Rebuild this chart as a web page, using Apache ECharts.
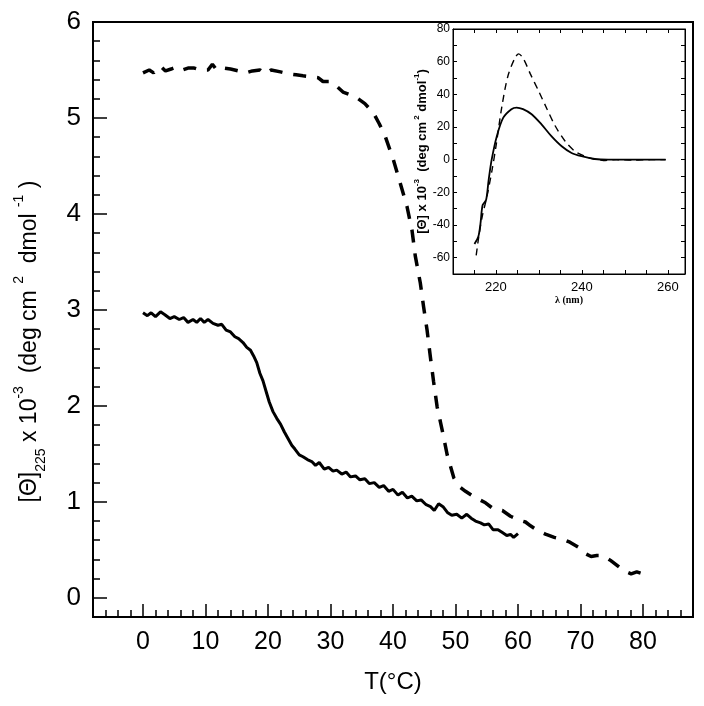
<!DOCTYPE html>
<html>
<head>
<meta charset="utf-8">
<script src="https://cdn.jsdelivr.net/npm/echarts@6/dist/echarts.min.js"></script>
<style>html,body{margin:0;padding:0;background:#fff}#c{width:704px;height:706px}</style>
</head>
<body>
<div id="c"></div>
<script>
// ---- Main chart data: T (°C) vs [Θ]225 x 10^-3 ----
var solidT = [0,0.7,1.3,2,2.8,3.5,4.3,5,5.8,6.5,7.2,8,8.6,9.2,9.8,10.4,11.2,12,12.6,13.3,14,14.7,15.3,16,16.6,17.2,17.7,18.2,18.7,19.2,19.7,20.2,20.8,21.4,22,22.6,23.2,23.8,24.3,25,25.6,26.3,27,27.6,28.2,29,29.7,30.4,31,31.8,32.5,33.2,34,34.7,35.5,36.2,37,37.8,38.5,39.3,40,40.8,41.5,42.3,43,43.8,44.5,45.3,46,46.6,47.3,48,48.7,49.4,50.2,51,51.8,52.5,53.2,54,54.6,55.3,56,56.8,57.5,58.2,58.8,59.3,60];
var solidV = [2.97,2.94,2.97,2.93,2.98,2.95,2.91,2.93,2.90,2.92,2.87,2.90,2.87,2.91,2.87,2.90,2.86,2.84,2.85,2.79,2.77,2.72,2.70,2.66,2.61,2.58,2.52,2.45,2.34,2.26,2.15,2.04,1.94,1.87,1.81,1.73,1.66,1.59,1.55,1.49,1.47,1.44,1.42,1.38,1.41,1.34,1.36,1.32,1.33,1.29,1.31,1.26,1.27,1.23,1.24,1.19,1.20,1.15,1.17,1.11,1.13,1.07,1.10,1.04,1.06,1.01,1.02,0.97,0.95,0.91,0.98,0.95,0.89,0.86,0.87,0.83,0.87,0.83,0.80,0.78,0.76,0.77,0.71,0.71,0.68,0.65,0.66,0.63,0.67];
var dashT = [0,1,1.7,2.8,3.6,4.5,5.3,6.3,7.2,8.2,9.2,10.4,11.1,11.8,13,14,15.3,16.5,17.5,18.7,19.5,20.5,22,23.3,24.5,25.6,26.8,28,28.8,30,31,32,33.2,34.2,35.5,36.9,37.8,38.75,40.08,41.16,42.23,43.04,43.57,44.37,44.9,45.45,45.98,46.5,47.06,47.86,48.67,49.73,50.6,51.6,53,54.8,56,57.5,58.8,60.2,61.2,62,63.2,64.5,65.8,67.2,68.3,69.6,70.8,71.7,72.6,73.6,74.8,76,77,78.1,79,80];
var dashV = [5.47,5.50,5.47,5.54,5.49,5.51,5.53,5.50,5.52,5.52,5.50,5.50,5.56,5.50,5.52,5.51,5.49,5.47,5.49,5.50,5.46,5.50,5.48,5.46,5.45,5.44,5.43,5.42,5.38,5.38,5.33,5.27,5.24,5.21,5.15,5.05,4.94,4.81,4.56,4.32,4.08,3.83,3.56,3.28,3.03,2.79,2.51,2.25,1.99,1.75,1.49,1.25,1.16,1.11,1.05,0.99,0.93,0.91,0.85,0.81,0.79,0.75,0.70,0.66,0.63,0.61,0.58,0.53,0.46,0.43,0.44,0.44,0.39,0.33,0.28,0.25,0.27,0.25];
var mainXLabels = [0,10,20,30,40,50,60,70,80];
var mainYLabels = [0,1,2,3,4,5,6];

// ---- Inset data: wavelength (nm) vs [Θ] x 10^-3 ----
var insSolidL = [215.0,215.9,216.4,216.9,217.7,218.3,219.0,220.2,221.7,223.6,224.8,226.3,228.3,230.6,232.9,235.3,237.6,239.9,243.0,246.1,250,253.9,259.5];
var insSolidV = [-51.6,-47.1,-39.0,-27.8,-24.7,-12.4,0,14.4,25.7,30.9,31.9,30.9,27.8,21.6,14.4,8.2,4.1,2.1,0.4,0,0,0,0];
var insDashL = [215.4,216.0,216.8,217.9,219.1,220.0,221.4,222.8,224.5,225.3,226.4,228.0,229.9,231.9,233.8,236.1,238.4,240.7,242.7,243.8,245,248,252,256,259.5];
var insDashV = [-58.6,-47.1,-34.8,-22.6,-6.2,8.2,32.9,51.4,62.7,64.8,61.7,52.5,42.2,30.9,20.6,11.3,5.1,2.1,0.4,0,-0.5,0,-0.3,0,0];
var insXLabels = [220,240,260];
var insYLabels = [-60,-40,-20,0,20,40,60,80];

function zip(a,b){return a.map(function(v,i){return [v,b[i]];});}
function rng(a,b,s,skip){var r=[];for(var i=0;a+i*s<=b+1e-9;i++){var v=Math.round((a+i*s)*100)/100;if(!skip||!skip(v))r.push(v);}return r;}

var FONT = '"Liberation Sans",Arial,sans-serif';
var blk = '#000';

var xMinor = rng(-6,86,2,function(v){return v%10===0;});
var yMinor = rng(0.2,5.8,0.2,function(v){return Math.abs(v-Math.round(v))<1e-6;});
var insXT = rng(215,260,5);
var insYT = rng(-60,70,10);

var chart = echarts.init(document.getElementById('c'), null, {renderer:'canvas'});
chart.setOption({
  animation:false,
  backgroundColor:'#fff',
  grid:[
    {left:93, top:22, right:11, bottom:89, show:true, borderColor:blk, borderWidth:2, backgroundColor:'transparent'},
    {left:453, top:29, right:19, bottom:432, show:true, borderColor:blk, borderWidth:1, backgroundColor:'#fff'}
  ],
  xAxis:[
    {gridIndex:0, type:'value', min:-8, max:88, position:'bottom',
     axisLine:{show:true, onZero:false, lineStyle:{color:blk, width:2}},
     axisTick:{show:true, inside:true, length:7, customValues:xMinor, lineStyle:{color:blk, width:1.5}},
     axisLabel:{customValues:mainXLabels, color:blk, fontSize:25, fontFamily:FONT, margin:13},
     splitLine:{show:false},
     name:'T(°C)', nameLocation:'middle', nameGap:53,
     nameTextStyle:{color:blk, fontSize:24, fontFamily:FONT}},
    {gridIndex:0, type:'value', min:-8, max:88, position:'bottom',
     axisLine:{show:false, onZero:false},
     axisTick:{show:true, inside:true, length:13, customValues:mainXLabels, lineStyle:{color:blk, width:1.5}},
     axisLabel:{show:false}, splitLine:{show:false}},
    {gridIndex:1, type:'value', min:210, max:264, position:'bottom',
     axisLine:{show:true, onZero:false, lineStyle:{color:blk, width:1}},
     axisTick:{show:true, inside:true, length:4, customValues:insXT, lineStyle:{color:blk, width:1}},
     axisLabel:{customValues:insXLabels, color:blk, fontSize:13, fontFamily:FONT, margin:7},
     splitLine:{show:false},
     name:'λ (nm)', nameLocation:'middle', nameGap:21,
     nameTextStyle:{color:blk, fontSize:10, fontWeight:'bold', fontFamily:'"Liberation Serif","Times New Roman",serif'}},
    {gridIndex:1, type:'value', min:210, max:264, position:'top',
     axisLine:{show:true, onZero:false, lineStyle:{color:blk, width:1}},
     axisTick:{show:true, inside:true, length:4, customValues:insXT, lineStyle:{color:blk, width:1}},
     axisLabel:{show:false}, splitLine:{show:false}}
  ],
  yAxis:[
    {gridIndex:0, type:'value', min:-0.2, max:6, position:'left',
     axisLine:{show:true, onZero:false, lineStyle:{color:blk, width:2}},
     axisTick:{show:true, inside:true, length:7, customValues:yMinor, lineStyle:{color:blk, width:1.5}},
     axisLabel:{customValues:mainYLabels, color:blk, fontSize:26, fontFamily:FONT, margin:12, showMaxLabel:true},
     splitLine:{show:false},
     name:'{a|[Θ]}{s|225}{a| x 10}{p|-3}{a|  (deg cm }{p|2}{a|  dmol }{p|-1}{a| )}{e|}',
     nameLocation:'middle', nameGap:45,
     nameTextStyle:{color:blk, fontFamily:FONT,
       rich:{
         a:{fontSize:23, lineHeight:36, fontFamily:FONT, color:blk, verticalAlign:'middle'},
         s:{fontSize:14, lineHeight:14, fontFamily:FONT, color:blk, verticalAlign:'bottom'},
         p:{fontSize:14, lineHeight:14, fontFamily:FONT, color:blk, verticalAlign:'top'},
         e:{width:44, fontSize:10}
       }}},
    {gridIndex:0, type:'value', min:-0.2, max:6, position:'left', offset:0,
     axisLine:{show:false, onZero:false},
     axisTick:{show:true, inside:true, length:14, customValues:mainYLabels, lineStyle:{color:blk, width:1.5}},
     axisLabel:{show:false}, splitLine:{show:false}},
    {gridIndex:1, type:'value', min:-70, max:80, position:'left',
     axisLine:{show:true, onZero:false, lineStyle:{color:blk, width:1}},
     axisTick:{show:true, inside:true, length:4, customValues:insYT, lineStyle:{color:blk, width:1}},
     axisLabel:{customValues:insYLabels, color:blk, fontSize:12, fontFamily:FONT, margin:3, showMaxLabel:true},
     splitLine:{show:false},
     name:'{a|[Θ] x 10}{p|-3}{a|  (deg cm}{p| 2}{a| dmol}{p|-1}{a|)}',
     nameLocation:'middle', nameGap:12,
     nameTextStyle:{color:blk, fontFamily:FONT,
       rich:{
         a:{fontSize:13, lineHeight:18, fontWeight:'bold', fontFamily:FONT, color:blk, verticalAlign:'middle'},
         p:{fontSize:8, lineHeight:8, fontWeight:'bold', fontFamily:FONT, color:blk, verticalAlign:'top'}
       }}},
    {gridIndex:1, type:'value', min:-70, max:80, position:'right',
     axisLine:{show:true, onZero:false, lineStyle:{color:blk, width:1}},
     axisTick:{show:true, inside:true, length:4, customValues:insYT, lineStyle:{color:blk, width:1}},
     axisLabel:{show:false}, splitLine:{show:false}}
  ],
  series:[
    {type:'line', xAxisIndex:0, yAxisIndex:0, data:zip(solidT,solidV), showSymbol:false, symbol:'none',
     lineStyle:{color:blk, width:3, type:'solid'}, z:3},
    {type:'line', xAxisIndex:0, yAxisIndex:0, data:zip(dashT,dashV), showSymbol:false, symbol:'none',
     lineStyle:{color:blk, width:3.5, type:[13,11]}, z:3},
    {type:'line', xAxisIndex:2, yAxisIndex:2, data:zip(insSolidL,insSolidV), showSymbol:false, symbol:'none',
     smooth:0.3, lineStyle:{color:blk, width:1.8, type:'solid'}, z:5},
    {type:'line', xAxisIndex:2, yAxisIndex:2, data:zip(insDashL,insDashV), showSymbol:false, symbol:'none',
     smooth:0.3, lineStyle:{color:blk, width:1.4, type:[7,5]}, z:5}
  ]
});
</script>
</body>
</html>
